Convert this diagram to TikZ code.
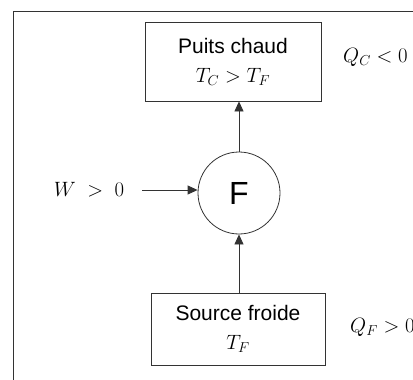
\documentclass[tikz,border=0pt]{standalone}
\usepackage{fontspec}
\setmainfont{Liberation Sans}
\usetikzlibrary{arrows.meta}

\begin{document}
\begin{tikzpicture}[
            x=1pt, y=-1pt,
            every node/.style={
                inner sep=0pt,
                font=\fontsize{21}{29}\selectfont
            },
            reservoir/.style={
                rectangle,
                draw=black!80,
                thick,
                align=center
            },
            fleche/.style={
                draw=black!80,
                thick,
                -{Triangle[length=10pt,width=9pt]}
            }
        ]
        \useasboundingbox (0,0) rectangle (413,380);
        \clip (0,0) rectangle (413,380);

        % Cadre
        \draw[black!80, thick] (13,380) -- (13,11) -- (413,11);

        % Reservoirs et machine
        \node[reservoir, minimum width=176pt, minimum height=79pt]
            (puits) at (233,61.5) {Puits chaud\\$T_C > T_F$};
        \node[reservoir, minimum width=174pt, minimum height=72pt]
            (source) at (238,329) {Source froide\\$T_F$};
        \node[circle, draw=black!80, thick, minimum size=82pt,
            font=\fontsize{32}{36}\selectfont]
            (moteur) at (239,193) {F};

        % Echanges
        \node[anchor=west] (qc) at (343,57) {$Q_C < 0$};
        \node[anchor=west] (qf) at (350,327) {$Q_F > 0$};
        \node (travail) at (89,190) {$W\;>\;0$};

        % Fleches
        \draw[fleche] (moteur.north) -- (moteur.north |- puits.south);
        \draw[fleche] (source.north -| moteur.south) -- (moteur.south);
        \draw[fleche, shorten <=18pt] (travail.east) -- (travail.east -| moteur.west);

        \end{tikzpicture}
\end{document}
